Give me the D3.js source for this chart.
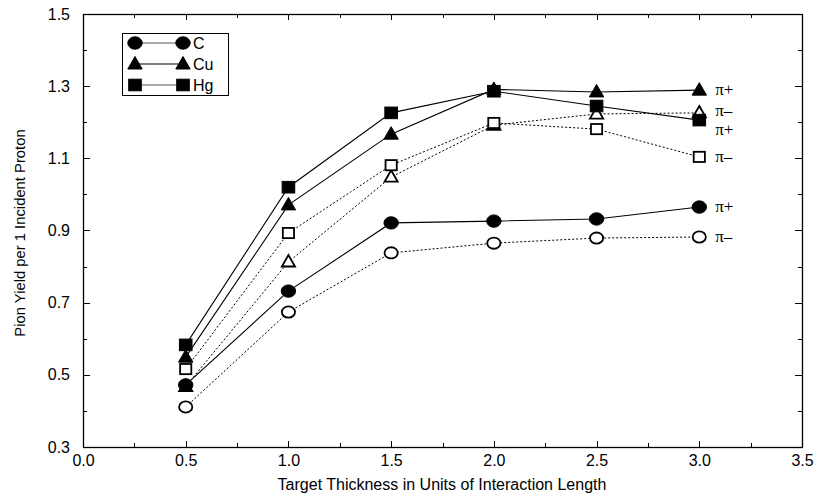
<!DOCTYPE html>
<html>
<head>
<meta charset="utf-8">
<script src="https://cdn.jsdelivr.net/npm/d3@7"></script>
<style>
  body { margin: 0; background: #fff; }
  svg { display: block; }
  .tick text { font-family: "Liberation Sans", Arial, sans-serif; font-size: 16px; fill: #000; }
</style>
</head>
<body>
<div id="area"></div>
<script>

// thickness values (units of interaction length)
var thickness = [0.5, 1.0, 1.5, 2.0, 2.5, 3.0];

// pion yield per incident proton
var C_piPlus   = [0.472, 0.732, 0.921, 0.926, 0.932, 0.965];
var C_piMinus  = [0.411, 0.674, 0.838, 0.865, 0.879, 0.882];
var Cu_piPlus  = [0.549, 0.971, 1.167, 1.291, 1.284, 1.289];
var Cu_piMinus = [0.468, 0.813, 1.048, 1.192, 1.223, 1.226];
var Hg_piPlus  = [0.583, 1.020, 1.226, 1.286, 1.245, 1.206];
var Hg_piMinus = [0.516, 0.893, 1.081, 1.198, 1.181, 1.104];

var xTicks = [0.0, 0.5, 1.0, 1.5, 2.0, 2.5, 3.0, 3.5];
var yTicks = [0.3, 0.5, 0.7, 0.9, 1.1, 1.3, 1.5];

var legendNames = ["C", "Cu", "Hg"];

var series = [
	{ name: "C",  charge: "+", values: C_piPlus,   shape: "circle",   filled: true  },
	{ name: "C",  charge: "-", values: C_piMinus,  shape: "circle",   filled: false },
	{ name: "Cu", charge: "+", values: Cu_piPlus,  shape: "triangle", filled: true  },
	{ name: "Cu", charge: "-", values: Cu_piMinus, shape: "triangle", filled: false },
	{ name: "Hg", charge: "+", values: Hg_piPlus,  shape: "square",   filled: true  },
	{ name: "Hg", charge: "-", values: Hg_piMinus, shape: "square",   filled: false }
];

// label offsets at the right end so the tags don't collide
var endLabelNudge = { "Cu+": 0, "Cu-": -2, "Hg+": 10, "Hg-": 0, "C+": 0, "C-": 0 };

var width = 818, height = 497;
var margin = { left: 83, right: 16, top: 14, bottom: 50 };

var svg = d3.select('#area').append('svg')
	.attr('width', width).attr('height', height);

var x = d3.scaleLinear().domain([0, 3.5]).range([margin.left, width - margin.right]);
var y = d3.scaleLinear().domain([0.3, 1.5]).range([height - margin.bottom, margin.top]);

var fmt = d3.format(".1f");
var minorX = d3.range(0, 3.5001, 0.25);
var minorY = d3.range(0.3, 1.5001, 0.1);

//Bottom axis with labels
svg.append('g')
	.attr('transform', 'translate(0,' + y.range()[0] + ')')
	.call(d3.axisBottom(x).tickValues(xTicks).tickFormat(fmt).tickSize(0).tickPadding(8))
	.call(function(g){ g.select('.domain').remove(); });

//Left axis with labels
svg.append('g')
	.attr('transform', 'translate(' + x.range()[0] + ',0)')
	.call(d3.axisLeft(y).tickValues(yTicks).tickFormat(fmt).tickSize(0).tickPadding(13))
	.call(function(g){ g.select('.domain').remove(); });

//Inward ticks on all four sides
var tickG = svg.append('g').attr('stroke', '#000').attr('stroke-width', 1);
minorX.forEach(function(v, i){
	var len = (i % 2 === 0) ? 6 : 4;
	var px = Math.round(x(v)) + 0.5;
	tickG.append('line').attr('x1', px).attr('x2', px)
		.attr('y1', y.range()[0]).attr('y2', y.range()[0] - len);
	tickG.append('line').attr('x1', px).attr('x2', px)
		.attr('y1', y.range()[1]).attr('y2', y.range()[1] + len);
});
minorY.forEach(function(v, i){
	var len = (i % 2 === 0) ? 7 : 4;
	var py = Math.round(y(v)) + 0.5;
	tickG.append('line').attr('y1', py).attr('y2', py)
		.attr('x1', x.range()[0]).attr('x2', x.range()[0] + len);
	tickG.append('line').attr('y1', py).attr('y2', py)
		.attr('x1', x.range()[1]).attr('x2', x.range()[1] - len);
});

//Frame
svg.append('rect')
	.attr('x', x.range()[0] + 0.5).attr('y', y.range()[1] + 0.5)
	.attr('width', x.range()[1] - x.range()[0]).attr('height', y.range()[0] - y.range()[1])
	.attr('fill', 'none').attr('stroke', '#000').attr('stroke-width', 1.3);

//Axis titles
svg.append('text')
	.attr('x', 442).attr('y', 490)
	.attr('text-anchor', 'middle')
	.style('font-family', '"Liberation Sans", Arial, sans-serif').style('font-size', '16px')
	.text('Target Thickness in Units of Interaction Length');

svg.append('text')
	.attr('transform', 'translate(25,' + 233 + ') rotate(-90)')
	.attr('text-anchor', 'middle')
	.style('font-family', '"Liberation Sans", Arial, sans-serif').style('font-size', '14.8px')
	.text('Pion Yield per 1 Incident Proton');

//Marker drawing helper
function drawMarker(g, shape, filled, cx, cy){
	var fill = filled ? '#000' : '#fff';
	var sw = filled ? 1 : 1.8;
	if(shape === 'circle'){
		g.append('ellipse').attr('cx', cx).attr('cy', cy)
			.attr('rx', filled ? 7.2 : 6.6).attr('ry', filled ? 6.2 : 5.6)
			.attr('fill', fill).attr('stroke', '#000').attr('stroke-width', sw);
	} else if(shape === 'triangle'){
		var w = filled ? 7.2 : 6.6, h = filled ? 12.5 : 11.5;
		g.append('path')
			.attr('d', 'M' + cx + ',' + (cy - h * 0.6) + 'L' + (cx + w) + ',' + (cy + h * 0.4) + 'L' + (cx - w) + ',' + (cy + h * 0.4) + 'Z')
			.attr('fill', fill).attr('stroke', '#000').attr('stroke-width', sw).attr('stroke-linejoin', 'miter');
	} else {
		var sx = filled ? 6.3 : 5.6, sy = filled ? 5.8 : 5.1;
		g.append('rect').attr('x', cx - sx).attr('y', cy - sy)
			.attr('width', 2 * sx).attr('height', 2 * sy)
			.attr('fill', fill).attr('stroke', '#000').attr('stroke-width', sw);
	}
}

var line = d3.line()
	.x(function(d, i){ return x(thickness[i]); })
	.y(function(d){ return y(d); });

var plot = svg.append('g');

//Lines first (dotted for pi-, solid for pi+)
series.forEach(function(s){
	plot.append('path')
		.datum(s.values)
		.attr('d', line)
		.attr('fill', 'none')
		.attr('stroke', '#000')
		.attr('stroke-width', s.filled ? 1.1 : 1)
		.attr('stroke-dasharray', s.filled ? null : '2,2');
});

//Markers on top, open ones drawn before filled ones
var order = series.filter(function(s){ return !s.filled; }).concat(series.filter(function(s){ return s.filled; }));
order.forEach(function(s){
	s.values.forEach(function(v, i){
		drawMarker(plot, s.shape, s.filled, x(thickness[i]), y(v));
	});
});

//Right-end pi labels
series.forEach(function(s){
	var last = s.values[s.values.length - 1];
	var key = s.name + s.charge;
	svg.append('text')
		.attr('x', x(thickness[thickness.length - 1]) + 16)
		.attr('y', y(last) + 5 + endLabelNudge[key])
		.style('font-family', '"Liberation Serif", "Times New Roman", serif')
		.style('font-size', '17px')
		.text(s.charge === '+' ? 'π+' : 'π\u2013');
});

//Legend
var leg = svg.append('g');
leg.append('rect')
	.attr('x', 122.5).attr('y', 33.5).attr('width', 106).attr('height', 62)
	.attr('fill', '#fff').attr('stroke', '#000').attr('stroke-width', 1);
var legShapes = ['circle', 'triangle', 'square'];
legendNames.forEach(function(n, i){
	var ly = 43 + i * 21;
	leg.append('line').attr('x1', 135).attr('x2', 183).attr('y1', ly).attr('y2', ly)
		.attr('stroke', i === 1 ? '#000' : '#555').attr('stroke-width', 1);
	drawMarker(leg, legShapes[i], true, 135, ly);
	drawMarker(leg, legShapes[i], true, 183, ly);
	leg.append('text').attr('x', 193).attr('y', ly + 6)
		.style('font-family', '"Liberation Sans", Arial, sans-serif').style('font-size', '16px')
		.text(n);
});

</script>
</body>
</html>
